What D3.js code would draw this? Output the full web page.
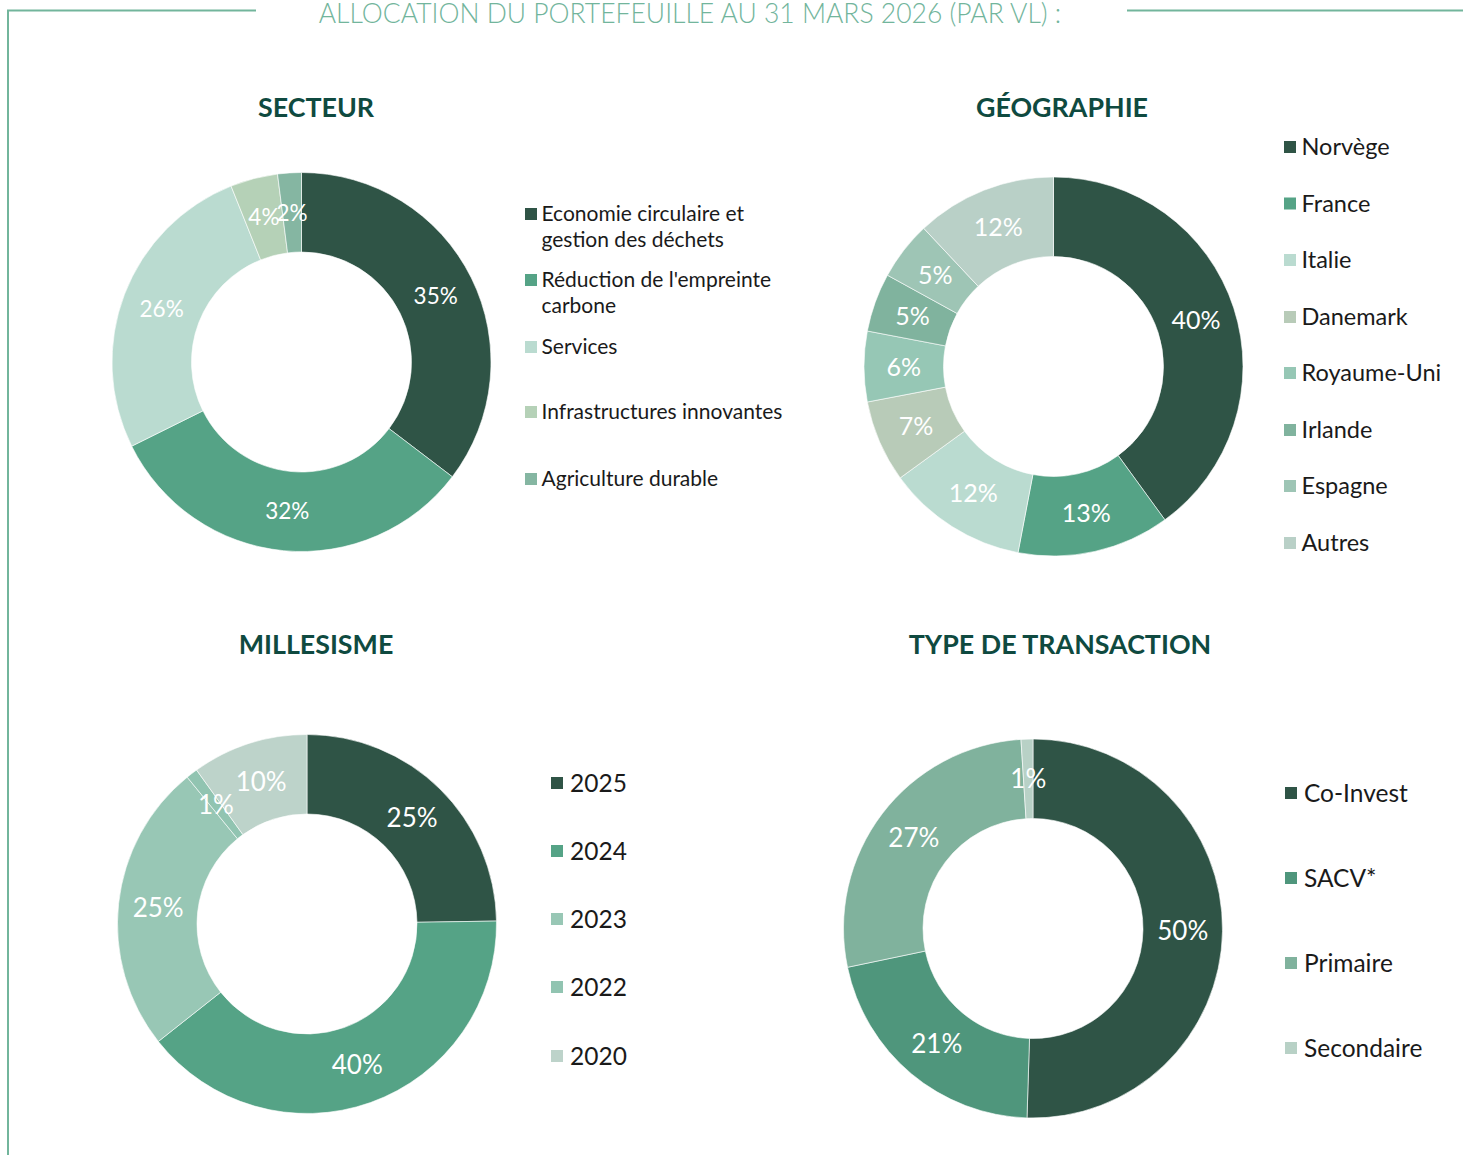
<!DOCTYPE html>
<html>
<head>
<meta charset="utf-8">
<script src="https://cdn.jsdelivr.net/npm/d3@7"></script>
<style>
  html, body { margin: 0; padding: 0; background: #ffffff; }
  svg { display: block; font-family: Lato, "Open Sans", sans-serif; }
</style>
</head>
<body>
<svg id="chart" width="1463" height="1155"></svg>
<script>
// Portfolio allocation donuts
const mainTitle = "ALLOCATION DU PORTEFEUILLE AU 31 MARS 2026 (PAR VL) :";

const secteurLabels = [["Economie circulaire et", "gestion des déchets"], ["Réduction de l'empreinte", "carbone"], ["Services"], ["Infrastructures innovantes"], ["Agriculture durable"]];
const secteurValues = [35, 32, 26, 4, 2];
const secteurColors = ["#2f5446", "#55a386", "#badbd0", "#b5d1b7", "#85b6a2"];

const geoLabels = ["Norvège", "France", "Italie", "Danemark", "Royaume-Uni", "Irlande", "Espagne", "Autres"];
const geoValues = [40, 13, 12, 7, 6, 5, 5, 12];
const geoColors = ["#2f5446", "#55a386", "#badbd0", "#b8cbb8", "#96c7b5", "#80b39e", "#9ec5b5", "#b9d0c7"];

const millesimeLabels = ["2025", "2024", "2023", "2022", "2020"];
const millesimeValues = [25, 40, 25, 1, 10];
const millesimeColors = ["#2f5446", "#55a386", "#98c7b5", "#91c4b1", "#bdd3ca"];

const transactionLabels = ["Co-Invest", "SACV*", "Primaire", "Secondaire"];
const transactionValues = [50, 21, 27, 1];
const transactionColors = ["#2f5446", "#4f967c", "#80b29d", "#b8d1c6"];

const svg = d3.select("#chart");
const accent = "#72b59c";
const titleColor = "#0f4a40";

// frame lines and header
svg.append("path")
  .attr("d", "M8,1155 V10.5 H256 M1127,10.5 H1463")
  .attr("fill", "none").attr("stroke", accent).attr("stroke-width", 2);
svg.append("text")
  .attr("x", 690).attr("y", 22.5)
  .attr("text-anchor", "middle")
  .attr("font-size", 26.5).attr("font-weight", 300)
  .attr("fill", accent)
  .text(mainTitle);

function donut(cfg) {
  const g = svg.append("g");
  g.append("text")
    .attr("x", cfg.titleX).attr("y", cfg.titleY)
    .attr("text-anchor", "middle")
    .attr("font-size", 26.8).attr("font-weight", 700)
    .attr("fill", titleColor)
    .text(cfg.title);

  const pie = d3.pie().sort(null).value(d => d.value);
  const arc = d3.arc().innerRadius(110).outerRadius(189.5);
  const data = cfg.values.map((v, i) => ({ value: v, color: cfg.colors[i] }));
  const arcs = pie(data);
  const pg = g.append("g").attr("transform", `translate(${cfg.cx},${cfg.cy})`);
  pg.selectAll("path").data(arcs).join("path")
    .attr("d", arc)
    .attr("fill", d => d.data.color)
    .attr("stroke", "#ffffff").attr("stroke-width", 0.6);
  pg.selectAll("text").data(arcs).join("text")
    .attr("transform", d => `translate(${arc.centroid(d)})`)
    .attr("text-anchor", "middle")
    .attr("dy", "0.36em")
    .attr("font-size", cfg.labelSize)
    .attr("fill", "#ffffff")
    .text(d => d.data.value + "%");

  // legend
  const lg = g.append("g");
  cfg.labels.forEach((lab, i) => {
    const lines = Array.isArray(lab) ? lab : [lab];
    const y = cfg.legendY[i];
    lg.append("rect")
      .attr("x", cfg.legendX).attr("y", y - 6)
      .attr("width", 12).attr("height", 12)
      .attr("fill", cfg.colors[i]);
    const t = lg.append("text")
      .attr("x", cfg.legendX + cfg.textGap).attr("y", y)
      .attr("font-size", cfg.legendSize)
      .attr("fill", "#1a1a1a");
    lines.forEach((ln, j) => {
      t.append("tspan").attr("x", cfg.legendX + cfg.textGap).attr("dy", j === 0 ? "0.35em" : cfg.lineGap).text(ln);
    });
  });
}

donut({
  title: "SECTEUR", titleX: 316, titleY: 117,
  cx: 301.5, cy: 362, values: secteurValues, colors: secteurColors, labelSize: 22.5,
  labels: secteurLabels, legendX: 525, textGap: 16.5, legendY: [214, 280, 347, 412, 479], legendSize: 21, lineGap: 26
});
donut({
  title: "GÉOGRAPHIE", titleX: 1062, titleY: 117,
  cx: 1053.5, cy: 366.5, values: geoValues, colors: geoColors, labelSize: 25,
  labels: geoLabels, legendX: 1284, textGap: 17.5, legendY: [147, 203.5, 260, 317, 373, 430, 486, 543], legendSize: 23.5, lineGap: 26
});
donut({
  title: "MILLESISME", titleX: 316, titleY: 654,
  cx: 307, cy: 924, values: millesimeValues, colors: millesimeColors, labelSize: 26,
  labels: millesimeLabels, legendX: 551, textGap: 19, legendY: [783, 851, 919, 987, 1056], legendSize: 24.5, lineGap: 26
});
donut({
  title: "TYPE DE TRANSACTION", titleX: 1060, titleY: 654,
  cx: 1033, cy: 928.5, values: transactionValues, colors: transactionColors, labelSize: 26,
  labels: transactionLabels, legendX: 1285, textGap: 19, legendY: [793, 878, 963, 1048], legendSize: 24.5, lineGap: 26
});
</script>
</body>
</html>
